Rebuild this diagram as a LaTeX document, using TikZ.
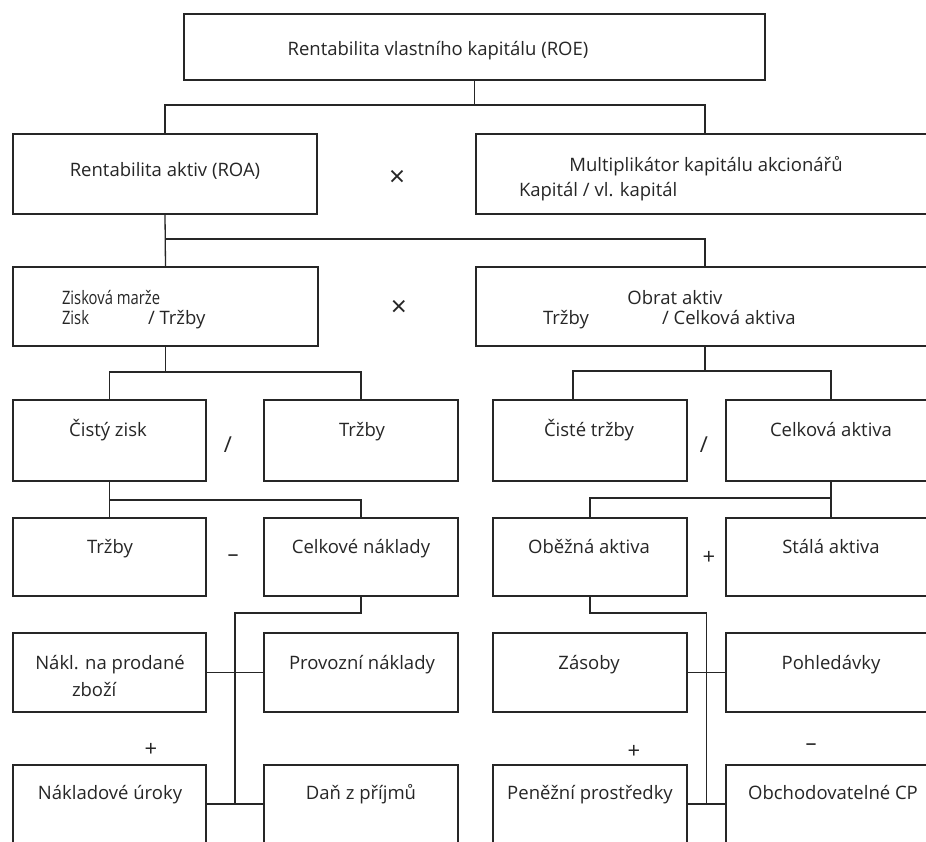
\documentclass[tikz,border=0pt]{standalone}
\usepackage{fontspec}
\setmainfont{Open Sans}
\newfontfamily\narrowfont[FakeStretch=0.8]{Open Sans}
\usetikzlibrary{fit,calc}
\definecolor{ink}{HTML}{262626}

\begin{document}
\begin{tikzpicture}[x=1pt,y=1pt,
  every node/.style={inner sep=0pt, outer sep=0pt},
  box/.style={draw=ink, line width=1.4pt},
  conn/.style={draw=ink, line width=1.3pt},
  lbl/.style={text=ink, font=\fontsize{18.5}{21}\selectfont, text height=17pt, text depth=4pt},
  nlbl/.style={lbl, font=\narrowfont\fontsize{18.5}{21}\selectfont},
  opsign/.style={text=ink, font=\fontsize{22}{24}\selectfont},
  times/.style={text=ink, font=\fontsize{28}{30}\selectfont}]
\clip (0,0) rectangle (926,-841);
\fill[white] (0,0) rectangle (926,-841);

% boxes
\node[box, fit={(184,-14) (765,-80)}] (roe) {};
\node[box, fit={(13,-134) (317,-214)}] (roa) {};
\node[box, fit={(476,-134) (934,-214)}] (mult) {};
\node[box, fit={(13,-267) (318,-346)}] (zm) {};
\node[box, fit={(476,-267) (934,-346)}] (obrat) {};
\node[box, fit={(13,-400) (206,-481)}] (cz) {};
\node[box, fit={(264,-400) (458,-481)}] (trz1) {};
\node[box, fit={(493,-400) (687,-481)}] (ct) {};
\node[box, fit={(726,-400) (936,-481)}] (ca) {};
\node[box, fit={(13,-518) (206,-596)}] (trz2) {};
\node[box, fit={(264,-518) (458,-596)}] (cn) {};
\node[box, fit={(493,-518) (687,-596)}] (ob) {};
\node[box, fit={(726,-518) (936,-596)}] (sa) {};
\node[box, fit={(13,-633) (206,-712)}] (np) {};
\node[box, fit={(264,-633) (458,-712)}] (pn) {};
\node[box, fit={(493,-633) (687,-712)}] (zas) {};
\node[box, fit={(726,-633) (936,-712)}] (poh) {};
\node[box, fit={(13,-765) (206,-843)}] (nu) {};
\node[box, fit={(264,-765) (458,-843)}] (dan) {};
\node[box, fit={(493,-765) (687,-843)}] (pp) {};
\node[box, fit={(726,-765) (936,-843)}] (ocp) {};

% connectors
\draw[conn] (roe.south) -- ++(0,-25) coordinate (j1);
\draw[conn] (roa.north) |- (j1) -| (mult.north);
\draw[conn] (roa.south) -- (zm.north);
\draw[conn] (roa.south) ++(0,-25) -| (obrat.north);
\draw[conn] (zm.south) -- ++(0,-26) coordinate (j2);
\draw[conn] (cz.north) |- (j2) -| (trz1.north);
\draw[conn] (obrat.south) -- ++(0,-25) coordinate (j3);
\draw[conn] ([xshift=-17pt]ct.north) |- (j3) -| (ca.north);
\draw[conn] (cz.south) -- (trz2.north);
\draw[conn] (cz.south) ++(0,-19) -| (cn.north);
\draw[conn] (ca.south) -- (sa.north);
\draw[conn] (ca.south) ++(0,-17) -| (ob.north);
\coordinate (lb) at ($(nu.east)!0.5!(dan.west)$);
\draw[conn] (cn.south) -- ++(0,-17) -| (lb);
\draw[conn] (np.east) -- (pn.west);
\draw[conn] (nu.east) -- (dan.west);
\coordinate (rb) at ($(pp.east)!0.5!(ocp.west)$);
\draw[conn] (ob.south) -- ++(0,-17) -| (rb);
\draw[conn] (zas.east) -- (poh.west);
\draw[conn] (pp.east) -- (ocp.west);

% texts
\node[lbl] (roe-t) at (438,-49) {Rentabilita vlastního kapitálu (ROE)};
\node[lbl] (roa-t) at (165,-170) {Rentabilita aktiv (ROA)};
\node[lbl] (mult-t) at (706,-165) {Multiplikátor kapitálu akcionářů};
\node[lbl, anchor=west] (mult-f) at (519,-190) {Kapitál / vl. kapitál};
\node[nlbl, anchor=west] (zm-t) at (62,-298) {Zisková marže};
\node[nlbl, anchor=west] (zm-a) at (62,-318) {Zisk};
\node[lbl, anchor=west] (zm-b) at (148,-318) {/ Tržby};
\node[lbl] (obrat-t) at (675,-298) {Obrat aktiv};
\node[lbl, anchor=west] (obrat-a) at (543,-318) {Tržby};
\node[lbl, anchor=west] (obrat-b) at (662,-318) {/ Celková aktiva};
\node[lbl] (cz-t) at (108,-430) {Čistý zisk};
\node[lbl] (trz1-t) at (362,-430) {Tržby};
\node[lbl] (ct-t) at (589,-430) {Čisté tržby};
\node[lbl] (ca-t) at (831,-430) {Celková aktiva};
\node[lbl] (trz2-t) at (110,-547) {Tržby};
\node[lbl] (cn-t) at (361,-547) {Celkové náklady};
\node[lbl] (ob-t) at (589,-547) {Oběžná aktiva};
\node[lbl] (sa-t) at (831,-547) {Stálá aktiva};
\node[lbl] (np-t) at (110,-663) {Nákl. na prodané};
\node[lbl, anchor=west] (np-u) at (72,-690) {zboží};
\node[lbl] (pn-t) at (362,-663) {Provozní náklady};
\node[lbl] (zas-t) at (589,-663) {Zásoby};
\node[lbl] (poh-t) at (831,-663) {Pohledávky};
\node[lbl] (nu-t) at (110,-793) {Nákladové úroky};
\node[lbl] (dan-t) at (361,-793) {Daň z příjmů};
\node[lbl] (pp-t) at (590,-793) {Peněžní prostředky};
\node[lbl] (ocp-t) at (833,-793) {Obchodovatelné CP};

% operators
\node[times] (op1) at (397,-178) {×};
\node[times] (op2) at (399,-308) {×};
\node[opsign] (op3) at (228,-445) {/};
\node[opsign] (op4) at (704,-445) {/};
\node[opsign] (op5) at (233,-558) {–};
\node[opsign] (op6) at (709,-558) {+};
\node[opsign] (op7) at (151,-750) {+};
\node[opsign] (op8) at (634,-752) {+};
\node[opsign] (op9) at (811,-747) {–};
\end{tikzpicture}
\end{document}
